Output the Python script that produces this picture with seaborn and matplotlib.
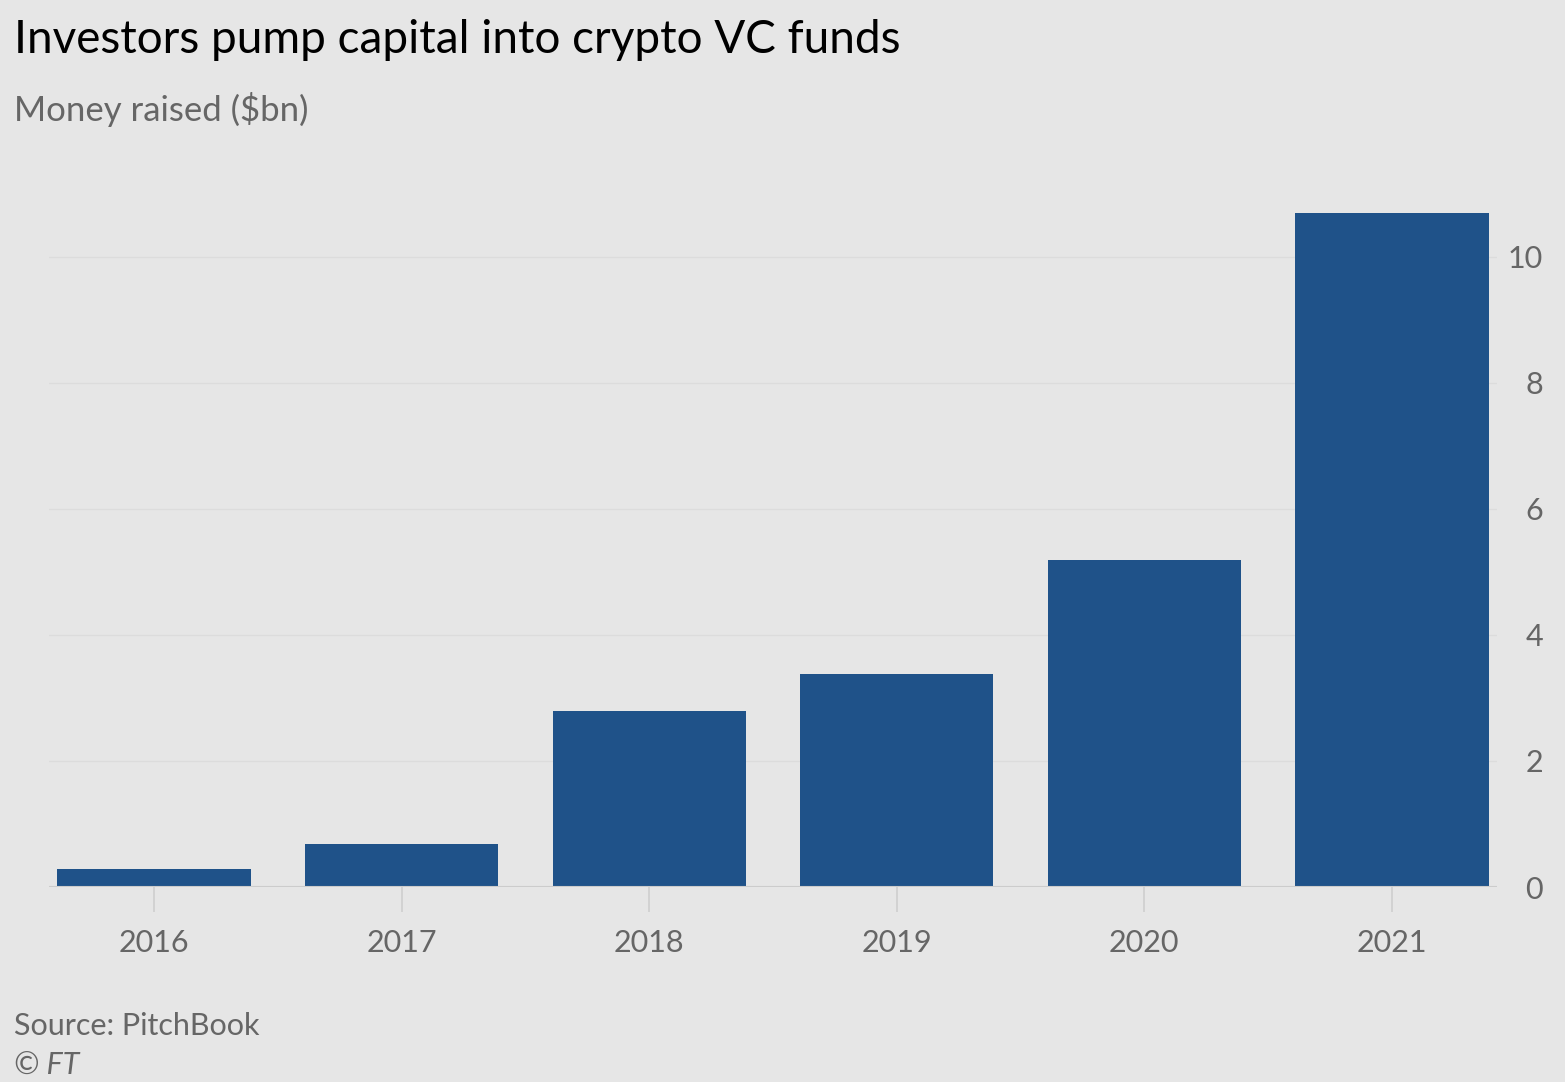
# import libraries
import seaborn as sns
import pandas as pd
import matplotlib.pyplot as plt

# data
years = ['2016', '2017', '2018', '2019', '2020', '2021']
money_raised = [0.29, 0.68, 2.79, 3.38, 5.19, 10.70]
y_ticks = [0, 2, 4, 6, 8, 10]

df = pd.DataFrame({'year': years, 'money': money_raised})

bg = '#e6e6e6'
bar_col = '#1f5289'
grey_txt = '#666666'

sns.set_theme(style='white')
plt.rcParams['font.family'] = ['Lato', 'DejaVu Sans']

fig = plt.figure(figsize=(15.65, 10.82), dpi=100, facecolor=bg)
ax = fig.add_axes([0.0313, 0.1802, 0.9252, 0.629])
ax.set_facecolor(bg)

sns.barplot(data=df, x='year', y='money', color=bar_col, width=0.78,
            saturation=1, linewidth=0, ax=ax, zorder=3)

ax.set_xlim(-0.424, 5.424)
ax.set_ylim(0, 10.8)
ax.set_yticks(y_ticks)
ax.set_yticklabels([])
ax.tick_params(axis='y', length=0, left=False, right=False)
ax.tick_params(axis='x', length=18, width=1.2, color='#cfcfcf', pad=12,
               labelsize=22, labelcolor=grey_txt, bottom=True)
ax.set_xlabel('')
ax.set_ylabel('')

# y labels on the right, right aligned
for t in y_ticks:
    ax.text(1.0318, t, str(t), transform=ax.get_yaxis_transform(),
            ha='right', va='center_baseline', fontsize=22, color=grey_txt)

# gridlines
for t in y_ticks[1:]:
    ax.axhline(t, color='#dcdcdc', lw=1, zorder=1)
ax.axhline(0, color='#cccccc', lw=1.5, zorder=4)

for s in ax.spines.values():
    s.set_visible(False)

# titles and notes
fig.text(0.009, 0.963, 'Investors pump capital into crypto VC funds',
         fontsize=33, color='black', va='center')
fig.text(0.009, 0.899, 'Money raised ($bn)', fontsize=25, color=grey_txt, va='center')
fig.text(0.009, 0.052, 'Source: PitchBook', fontsize=22, color=grey_txt, va='center')
fig.text(0.009, 0.015, '© FT', fontsize=22, color=grey_txt, va='center', style='italic')

plt.savefig('out.png', dpi=100, facecolor=bg)
